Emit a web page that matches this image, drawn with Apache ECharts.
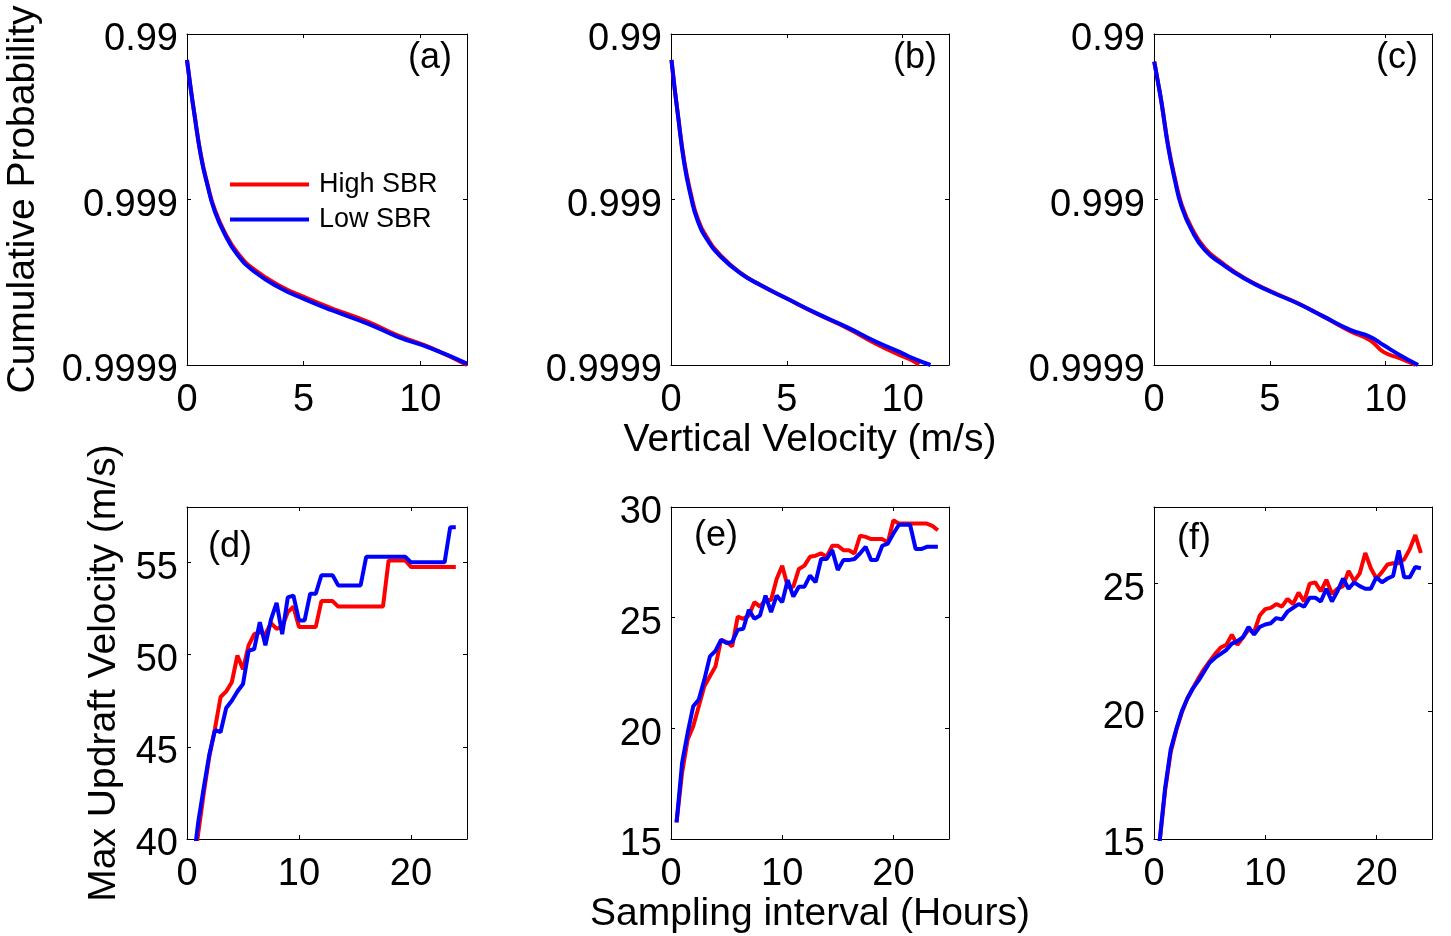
<!DOCTYPE html>
<html><head><meta charset="utf-8">
<script src="https://cdn.jsdelivr.net/npm/echarts@6.0.0/dist/echarts.min.js"></script>
<style>html,body{margin:0;padding:0;background:#fff}#c{width:1451px;height:936px}</style>
</head><body><div id="c"></div>
<script>
// ---------- DATA ----------
// Top row: cumulative probability vs vertical velocity (m/s)
const velA_high = [0, 0.15, 0.31, 0.6, 0.89, 1.17, 1.6, 2.17, 2.89, 4.03, 5.03, 6.17, 7.74, 9.03, 10.46, 12.0];
const probA_high = [0.993034, 0.995214, 0.99665, 0.99816, 0.99878, 0.999115, 0.99936, 0.999525, 0.999623, 0.999702, 0.999743, 0.999779, 0.999817, 0.999849, 0.999873, 0.9999];
const velA_low = [0, 0.15, 0.31, 0.6, 0.89, 1.17, 1.6, 2.17, 2.89, 4.03, 5.03, 6.17, 7.74, 9.03, 10.46, 12.0];
const probA_low = [0.993034, 0.995214, 0.996681, 0.998184, 0.998803, 0.999135, 0.999375, 0.999538, 0.999634, 0.99971, 0.99975, 0.999785, 0.999822, 0.999852, 0.999874, 0.999898];

const velB_high = [0.02, 0.15, 0.29, 0.57, 0.86, 1.14, 1.57, 2.15, 3.0, 3.86, 5.0, 6.29, 7.57, 8.86, 9.86, 10.43, 10.7];
const probB_high = [0.993034, 0.995214, 0.996681, 0.99829, 0.99892, 0.999225, 0.999415, 0.999542, 0.99964, 0.999696, 0.999748, 0.999796, 0.999832, 0.999866, 0.999885, 0.999894, 0.9999];
const velB_low = [0.02, 0.15, 0.29, 0.57, 0.86, 1.14, 1.57, 2.15, 3.0, 3.86, 5.0, 6.29, 7.57, 8.86, 9.86, 10.43, 11.2];
const probB_low = [0.993034, 0.995214, 0.996681, 0.99834, 0.99896, 0.999248, 0.999431, 0.999549, 0.999642, 0.999696, 0.999748, 0.999795, 0.99983, 0.999862, 0.99988, 0.99989, 0.9999];

const velC_high = [0.01, 0.17, 0.33, 0.61, 0.9, 1.19, 1.62, 2.19, 2.9, 3.9, 5.04, 6.19, 7.33, 8.47, 9.33, 9.9, 10.6, 11.3];
const probC_high = [0.993192, 0.994871, 0.996189, 0.99787, 0.99865, 0.999065, 0.999325, 0.999492, 0.999582, 0.999664, 0.999721, 0.999763, 0.999804, 0.99984, 0.999859, 0.99988, 0.99989, 0.9999];
const velC_low = [0.01, 0.17, 0.33, 0.61, 0.9, 1.19, 1.62, 2.19, 2.9, 3.9, 5.04, 6.19, 7.33, 8.47, 9.33, 9.9, 10.6, 11.4];
const probC_low = [0.993192, 0.994871, 0.996189, 0.997916, 0.998688, 0.999094, 0.999345, 0.999505, 0.999589, 0.999667, 0.999723, 0.999764, 0.999804, 0.999837, 0.999852, 0.999868, 0.999885, 0.9999];

// Bottom row: max updraft velocity (m/s) vs sampling interval (hours)
const hours = [0.5, 1, 1.5, 2, 2.5, 3, 3.5, 4, 4.5, 5, 5.5, 6, 6.5, 7, 7.5, 8, 8.5, 9, 9.5, 10,
  10.5, 11, 11.5, 12, 12.5, 13, 13.5, 14, 14.5, 15, 15.5, 16, 16.5, 17, 17.5, 18, 18.5, 19, 19.5, 20,
  20.5, 21, 21.5, 22, 22.5, 23, 23.5, 24];
const maxD_high = [38.0, 40.3, 42.5, 44.5, 46.0, 47.7, 48.0, 48.5, 49.95, 49.2,
  50.5, 51.1, 51.2, 51.1, 51.7, 51.4, 51.5, 52.3, 52.6, 51.5,
  51.5, 51.5, 51.5, 52.9, 52.9, 52.9, 52.6, 52.6, 52.6, 52.6,
  52.6, 52.6, 52.6, 52.6, 52.6, 55.1, 55.1, 55.1, 55.1, 54.75,
  54.75, 54.75, 54.75, 54.75, 54.75, 54.75, 54.75, 54.75];
const maxD_low = [38.4, 40.9, 42.8, 44.6, 45.9, 45.8, 47.1, 47.5, 48.0, 48.4,
  50.2, 50.3, 51.75, 50.5, 51.9, 52.8, 51.1, 53.1, 53.2, 51.85,
  51.85, 53.3, 53.3, 54.3, 54.3, 54.3, 53.75, 53.75, 53.75, 53.75,
  53.75, 55.3, 55.3, 55.3, 55.3, 55.3, 55.3, 55.3, 55.3, 55.0,
  55.0, 55.0, 55.0, 55.0, 55.0, 55.0, 56.9, 56.9];
const maxE_high = [15.75, 18.0, 19.5, 20.1, 21.0, 21.9, 22.35, 22.8, 24.0, 23.9,
  23.7, 25.05, 24.95, 25.1, 25.7, 25.5, 25.8, 25.8, 26.75, 27.35,
  26.4, 26.4, 27.2, 27.35, 27.75, 27.8, 27.9, 27.75, 28.25, 28.25,
  28.05, 28.05, 27.9, 28.7, 28.65, 28.55, 28.55, 28.55, 28.4, 29.4,
  29.25, 29.25, 29.25, 29.25, 29.25, 29.25, 29.15, 28.95];
const maxE_low = [15.75, 18.45, 19.8, 21.0, 21.3, 22.2, 23.25, 23.5, 24.0, 23.85,
  23.9, 24.45, 24.5, 25.35, 24.95, 25.1, 26.0, 25.25, 26.0, 25.7,
  26.7, 25.95, 26.4, 26.4, 26.9, 26.6, 27.65, 27.65, 28.05, 27.15,
  27.6, 27.6, 27.65, 27.9, 28.2, 27.6, 27.6, 28.25, 28.35, 28.8,
  29.2, 29.2, 29.2, 28.1, 28.1, 28.2, 28.2, 28.2];
const maxF_high = [14.85, 16.9, 18.4, 19.25, 19.95, 20.5, 20.9, 21.3, 21.65, 21.95,
  22.25, 22.5, 22.6, 23.0, 22.6, 22.9, 23.2, 23.1, 23.75, 24.0,
  24.05, 24.2, 24.1, 24.4, 24.2, 24.65, 24.3, 25.0, 25.05, 24.7,
  25.15, 24.6, 24.8, 24.9, 25.5, 25.1, 25.4, 26.2, 25.6, 25.2,
  25.45, 25.75, 25.8, 25.8, 25.95, 26.35, 26.9, 26.2];
const maxF_low = [14.9, 17.0, 18.5, 19.3, 20.0, 20.5, 20.9, 21.2, 21.55, 21.9,
  22.1, 22.25, 22.4, 22.65, 22.75, 22.9, 23.3, 23.0, 23.3, 23.4,
  23.45, 23.65, 23.6, 23.9, 24.05, 24.2, 24.1, 24.45, 24.45, 24.3,
  24.8, 24.3, 24.7, 25.2, 24.8, 25.05, 24.9, 24.8, 24.8, 25.25,
  25.05, 25.2, 25.3, 26.3, 25.25, 25.25, 25.65, 25.6];

const seriesNames = ['High SBR', 'Low SBR'];
const panelLabels = ['(a)', '(b)', '(c)', '(d)', '(e)', '(f)'];
const probTicks = [0.0001, 0.001, 0.01]; // exceedance 1-p : 0.9999, 0.999, 0.99
const nameVel = 'Vertical Velocity (m/s)';
const nameProb = 'Cumulative Probability';
const nameInt = 'Sampling interval (Hours)';
const nameMax = 'Max Updraft Velocity (m/s)';

// ---------- CHART ----------
const FONT = 'Liberation Sans';
const RED = '#ff0000', BLUE = '#0000ff';
const gridsPos = [
  {left: 187, top: 34, width: 280, height: 331},
  {left: 671, top: 34, width: 278, height: 331},
  {left: 1154, top: 34, width: 278, height: 331},
  {left: 187, top: 507, width: 280, height: 332},
  {left: 671, top: 507, width: 278, height: 332},
  {left: 1154, top: 507, width: 278, height: 332}
];
const labelPos = [[430, 58], [915, 58], [1397, 58], [230, 547], [716, 536], [1194, 539]];

const xAxes = [], yAxes = [], series = [];
const lineAxis = {show: true, onZero: false, lineStyle: {color: '#000', width: 1}};
const tick = {show: true, inside: true, length: 4, lineStyle: {color: '#000', width: 1}};
const lab = {color: '#000', fontFamily: FONT, fontSize: 38};
const nameStyle = {color: '#000', fontFamily: FONT, fontSize: 39};

function addAxes(gi, xc, yc) {
  const xi = xAxes.length, yi = yAxes.length;
  xAxes.push(Object.assign({gridIndex: gi, position: 'bottom', axisLine: lineAxis, axisTick: tick,
    splitLine: {show: false}, axisLabel: Object.assign({margin: 17, showMaxLabel: xc.showMax}, lab),
    nameTextStyle: nameStyle}, xc.base));
  xAxes.push(Object.assign({gridIndex: gi, position: 'top', axisLine: lineAxis, axisTick: tick,
    splitLine: {show: false}, axisLabel: {show: false}}, xc.base, {name: ''}));
  yAxes.push(Object.assign({gridIndex: gi, position: 'left', axisLine: lineAxis, axisTick: tick,
    splitLine: {show: false},
    axisLabel: Object.assign({margin: 9, verticalAlign: 'top', lineHeight: 12,
      showMaxLabel: yc.showMax, formatter: yc.fmt}, lab),
    nameTextStyle: nameStyle}, yc.base));
  yAxes.push(Object.assign({gridIndex: gi, position: 'right', axisLine: lineAxis, axisTick: tick,
    splitLine: {show: false}, axisLabel: {show: false}}, yc.base, {name: ''}));
  return [xi, yi];
}

const probFmt = function (v) { return String(+(1 - v).toFixed(6)); };
const topX = {type: 'value', min: 0, max: 12, interval: 5};
const topY = {type: 'log', logBase: 10, min: probTicks[0], max: probTicks[2]};

const topData = [
  [velA_high, probA_high, velA_low, probA_low],
  [velB_high, probB_high, velB_low, probB_low],
  [velC_high, probC_high, velC_low, probC_low]
];
topData.forEach(function (d, k) {
  const xb = Object.assign({}, topX);
  const yb = Object.assign({}, topY);
  if (k === 1) { xb.name = nameVel; xb.nameLocation = 'middle'; xb.nameGap = 54; }
  if (k === 0) { yb.name = nameProb; yb.nameLocation = 'middle'; yb.nameGap = 144; }
  const ax = addAxes(k, {base: xb, showMax: false}, {base: yb, showMax: true, fmt: probFmt});
  [[d[0], d[1], RED, 0], [d[2], d[3], BLUE, 1]].forEach(function (s) {
    series.push({
      type: 'line', name: seriesNames[s[3]], xAxisIndex: ax[0], yAxisIndex: ax[1],
      data: s[0].map(function (v, i) { return [v, 1 - s[1][i]]; }),
      symbol: 'none', smooth: 0.5, clip: true,
      lineStyle: {color: s[2], width: 4}, itemStyle: {color: s[2]}
    });
  });
});

const botData = [
  [maxD_high, maxD_low, {min: 40, max: 58, interval: 5}, false],
  [maxE_high, maxE_low, {min: 15, max: 30, interval: 5}, true],
  [maxF_high, maxF_low, {min: 15, max: 28, interval: 5}, false]
];
botData.forEach(function (d, k) {
  const xb = {type: 'value', min: 0, max: 25, interval: 10};
  const yb = Object.assign({type: 'value'}, d[2]);
  if (k === 1) { xb.name = nameInt; xb.nameLocation = 'middle'; xb.nameGap = 56; }
  if (k === 0) { yb.name = nameMax; yb.nameLocation = 'middle'; yb.nameGap = 63; }
  const ax = addAxes(k + 3, {base: xb, showMax: false}, {base: yb, showMax: d[3]});
  [[d[0], RED, 0], [d[1], BLUE, 1]].forEach(function (s) {
    series.push({
      type: 'line', name: seriesNames[s[2]], xAxisIndex: ax[0], yAxisIndex: ax[1],
      data: hours.map(function (h, i) { return [h, s[0][i]]; }),
      symbol: 'none', clip: true,
      lineStyle: {color: s[1], width: 4}, itemStyle: {color: s[1]}
    });
  });
});

const graphics = panelLabels.map(function (t, i) {
  return {type: 'text', x: labelPos[i][0], y: labelPos[i][1], z: 100,
    style: {text: t, fill: '#000', font: '36px "Liberation Sans"', textAlign: 'center', textVerticalAlign: 'middle'}};
});

const chart = echarts.init(document.getElementById('c'), null, {renderer: 'canvas'});
chart.setOption({
  animation: false,
  backgroundColor: '#fff',
  grid: gridsPos.map(function (g) { return Object.assign({containLabel: false}, g); }),
  xAxis: xAxes,
  yAxis: yAxes,
  legend: {
    data: seriesNames, orient: 'vertical', left: 230, top: 171, padding: 0,
    itemWidth: 79, itemHeight: 4, itemGap: 8, icon: 'rect',
    textStyle: {color: '#000', fontFamily: FONT, fontSize: 27, padding: [0, 0, 0, 5]}
  },
  graphic: graphics,
  series: series
});
</script></body></html>
